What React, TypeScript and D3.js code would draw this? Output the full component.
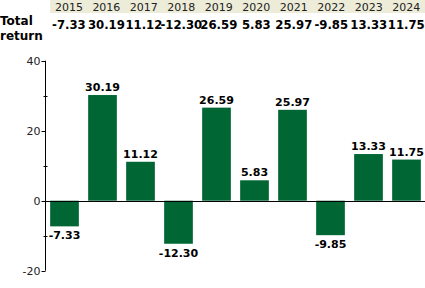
import React from "react";
import * as d3 from "d3";

const years = ["2015", "2016", "2017", "2018", "2019", "2020", "2021", "2022", "2023", "2024"];
const returns = [-7.33, 30.19, 11.12, -12.3, 26.59, 5.83, 25.97, -9.85, 13.33, 11.75];
const majorTicks = [-20, 0, 20, 40];
const minorTicks = [-10, 10, 30];

const W = 425;
const H = 288;
const FONT = "'DejaVu Sans', Verdana, sans-serif";

export default function App() {
  const x = d3.scaleBand<string>().domain(years).range([45.5, 425.5]).paddingInner(0.245).paddingOuter(0.1225);
  const y = d3.scaleLinear().domain([-20, 40]).range([270.7, 60.7]);
  const axisX = 45.5;
  const bw = x.bandwidth();
  const headStart = x(years[0]) as number;
  const xh = d3.scaleBand<string>().domain(years).range([headStart, W]);
  const hc = (yr: string) => (xh(yr) as number) + xh.bandwidth() / 2;

  return (
    <svg width={W} height={H} style={{ position: "absolute", left: 0, top: 0, background: "#fff" }}>
      <rect x={headStart} y={0} width={W - headStart} height={13} fill="#EDECD8" />
      {years.map((yr) => (
        <text key={yr} x={hc(yr)} y={11} textAnchor="middle" fontFamily={FONT} fontSize={11} fill="#222">
          {yr}
        </text>
      ))}
      <text x={0} y={25} fontFamily={FONT} fontSize={12} fontWeight="bold" fill="#000">Total</text>
      <text x={0} y={40} fontFamily={FONT} fontSize={12} fontWeight="bold" fill="#000">return</text>
      {returns.map((v, i) => (
        <text key={"h" + i} x={hc(years[i])} y={29} textAnchor="middle" fontFamily={FONT} fontSize={11.7} fontWeight="bold" fill="#000">
          {v.toFixed(2)}
        </text>
      ))}
      {returns.map((v, i) => (
        <rect
          key={"b" + i}
          x={x(years[i]) as number}
          y={Math.min(y(v), y(0))}
          width={bw}
          height={Math.abs(y(v) - y(0))}
          fill="#006633"
        />
      ))}
      {returns.map((v, i) => (
        <text
          key={"l" + i}
          x={(x(years[i]) as number) + bw / 2}
          y={v >= 0 ? y(v) - 4 : y(v) + 13}
          textAnchor="middle"
          fontFamily={FONT}
          fontSize={11}
          fontWeight="bold"
          fill="#000"
        >
          {v.toFixed(2)}
        </text>
      ))}
      <line x1={axisX} x2={axisX} y1={y(40)} y2={y(-20)} stroke="#000" strokeWidth={1} />
      <line x1={axisX} x2={W} y1={Math.round(y(0)) + 0.5} y2={Math.round(y(0)) + 0.5} stroke="#000" strokeWidth={1} />
      {majorTicks.map((t) => (
        <g key={"t" + t}>
          <line x1={axisX - 4} x2={axisX} y1={Math.round(y(t)) + 0.5} y2={Math.round(y(t)) + 0.5} stroke="#000" />
          <text x={axisX - 5} y={y(t) + 4} textAnchor="end" fontFamily={FONT} fontSize={11} fill="#222">
            {t}
          </text>
        </g>
      ))}
      {minorTicks.map((t) => (
        <line key={"m" + t} x1={axisX - 2} x2={axisX + 2} y1={Math.round(y(t)) + 0.5} y2={Math.round(y(t)) + 0.5} stroke="#000" />
      ))}
    </svg>
  );
}
